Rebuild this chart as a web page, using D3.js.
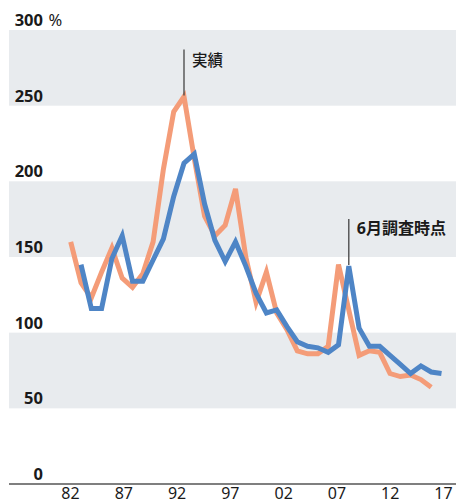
<!DOCTYPE html>
<html><head><meta charset="utf-8">
<script src="https://cdn.jsdelivr.net/npm/d3@7/dist/d3.min.js"></script>
<style>
body{margin:0;background:#fff}
svg{display:block}
text{font-family:"Noto Sans","Noto Sans CJK JP",sans-serif;fill:#1a1a1a}
</style>
</head><body>
<svg id="c" width="456" height="504"></svg>
<script>
// ---- data ----
const actualYears = d3.range(1982, 2018);      // 実績 1982–2017
const actualValues = [160,133,123,140,156,136,130,139,160,208,246,256,215,177,164,171,195,150,120,140,113,102,88,86,86,91,145,115,85,88,87,73,71,72,69,64];
const surveyYears = d3.range(1983, 2019);      // 6月調査時点 1983–2018
const surveyValues = [145,116,116,149,164,134,134,148,162,190,212,218,185,161,147,160,144,126,113,115,104,94,91,90,87,92,144,103,91,91,85,79,73,78,74,73];
const yTicks = [0,50,100,150,200,250,300];
const xTickLabels = ["82","87","92","97","02","07","12","17"];
const annotations = [
  {label:"実績", year:1993, series:"actual"},
  {label:"6月調査時点", year:2009, series:"survey"}
];

// ---- layout ----
const W = 456, H = 504;
const svg = d3.select("#c");
const y = d3.scaleLinear().domain([0,300]).range([484,30]);
const x = d3.scaleLinear().domain([1982,2018]).range([70.7,441.5]);
const xLab = d3.scalePoint().domain(xTickLabels).range([70,443]);
const plotLeft = 9;

const orange = "#f49c78", blue = "#4e85c6", band = "#e8ebee";

// bands
const bandPairs = [[250,300],[150,200],[50,100]];
svg.append("g").selectAll("rect").data(bandPairs).join("rect")
  .attr("x", plotLeft).attr("width", W - plotLeft)
  .attr("y", d => y(d[1])).attr("height", d => y(d[0]) - y(d[1]))
  .attr("fill", band);

// y labels
const yl = svg.append("g");
yl.selectAll("text").data(yTicks).join("text")
  .attr("x", 43).attr("y", d => y(d) - 4)
  .attr("text-anchor","end")
  .attr("font-size", 16.5).attr("font-weight", 700)
  .text(d => d);
yl.append("text").attr("x", 48.5).attr("y", y(300) - 4)
  .attr("font-size", 16.5).attr("font-weight", 400).text("%");

// baseline
svg.append("line").attr("x1", plotLeft).attr("x2", W)
  .attr("y1", y(0)).attr("y2", y(0))
  .attr("stroke", "#555").attr("stroke-width", 1.3);

// x axis labels
const xa = d3.axisBottom(xLab).tickSize(0).tickPadding(0);
const gx = svg.append("g").attr("transform", `translate(0,${y(0)})`).call(xa);
gx.select(".domain").remove();
gx.selectAll("text").attr("font-size", 16).attr("y", 14.5).attr("dy", 0)
  .style("font-family", '"Noto Sans","Noto Sans CJK JP",sans-serif').attr("fill","#1a1a1a");

// lines
const line = d3.line().x(d => x(d[0])).y(d => y(d[1])).curve(d3.curveLinear);
const actual = actualYears.map((yr,i) => [yr, actualValues[i]]);
const survey = surveyYears.map((yr,i) => [yr, surveyValues[i]]);
svg.append("path").datum(actual).attr("d", line)
  .attr("fill","none").attr("stroke", orange).attr("stroke-width", 5)
  .attr("stroke-linejoin","miter");
svg.append("path").datum(survey).attr("d", line)
  .attr("fill","none").attr("stroke", blue).attr("stroke-width", 5)
  .attr("stroke-linejoin","miter");

// annotations
annotations.forEach((a, k) => {
  const src = a.series === "actual" ? actual : survey;
  const pt = src.find(d => d[0] === a.year);
  const px = x(pt[0]), py = y(pt[1]);
  const top = py - 47;
  svg.append("line").attr("x1", px).attr("x2", px).attr("y1", top).attr("y2", py - 1)
    .attr("stroke", "#444").attr("stroke-width", 1.3);
  svg.append("text").attr("x", px + 8).attr("y", top + (k === 0 ? 16 : 14.5))
    .attr("font-size", k === 0 ? 15.5 : 16).attr("font-weight", k === 0 ? 500 : 700)
    .text(a.label);
});
</script>
</body></html>
